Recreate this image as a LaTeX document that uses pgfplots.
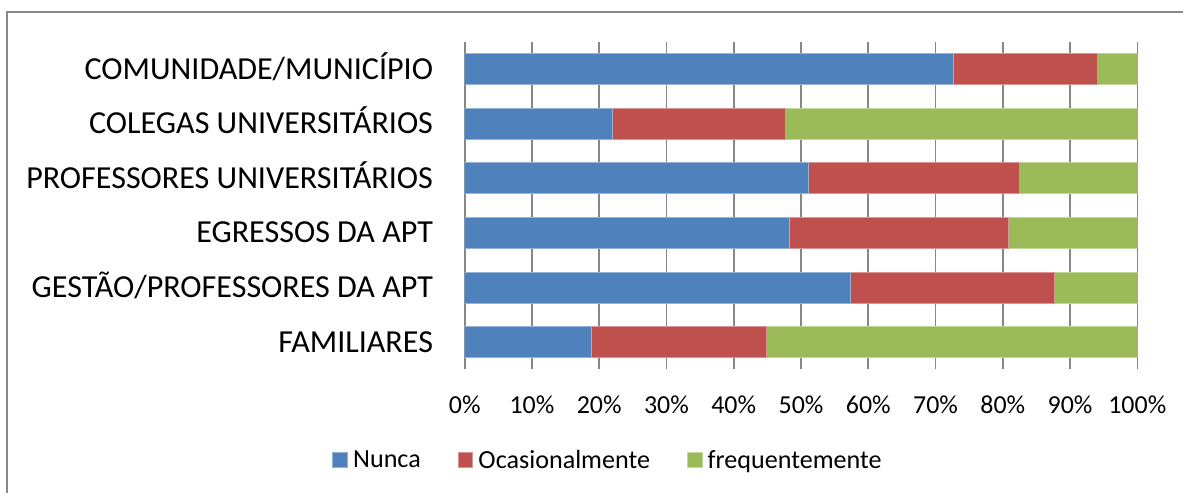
\documentclass[border=0pt]{standalone}
\usepackage{fontspec}
\setmainfont{Carlito}
\usepackage{pgfplots}
\pgfplotsset{compat=1.18}
\definecolor{cblue}{HTML}{4F81BD}
\definecolor{cred}{HTML}{C0504D}
\definecolor{cgreen}{HTML}{9BBB59}
\definecolor{gridgray}{HTML}{878787}
\begin{document}
\begin{tikzpicture}
\useasboundingbox (0bp,0bp) rectangle (1183bp,493bp);
\draw[color=gridgray, line width=2bp] (7bp,0bp) -- (7bp,481bp) -- (1183bp,481bp);
\begin{axis}[
  at={(464.7bp,123.5bp)}, anchor=south west,
  scale only axis, width=672.6bp, height=327.8bp,
  xbar stacked, bar width=31bp,
  xmin=0, xmax=100, ymin=-0.5, ymax=5.5,
  xtick={0,10,...,100},
  xticklabel={\pgfmathprintnumber{\tick}\%},
  ytick={0,1,2,3,4,5},
  yticklabels={FAMILIARES,GESTÃO/PROFESSORES DA APT,EGRESSOS DA APT,PROFESSORES UNIVERSITÁRIOS,COLEGAS UNIVERSITÁRIOS,COMUNIDADE/MUNICÍPIO},
  /pgf/number format/assume math mode=true,
  major tick length=0pt,
  axis line style={draw=none},
  xmajorgrids, ymajorgrids=false,
  grid style={color=gridgray, line width=1.6bp},
  xticklabel style={anchor=center, yshift=-35bp, font=\fontsize{26}{30}\selectfont},
  yticklabel style={anchor=base east, inner sep=0pt, xshift=-31.5bp, yshift=-10bp, font=\fontsize{32.2}{36}\selectfont},
  legend columns=-1,
  legend style={draw=none, fill=none, at={(0.2116,-0.276)}, anchor=center,
    font=\fontsize{26.2}{30}\selectfont,
    nodes={inner sep=0pt},
    /tikz/every even column/.append style={column sep=37bp}},
  legend image code/.code={\fill[#1] (0bp,-7.2bp) rectangle (14.5bp,7.2bp); \path (20bp,0bp);},
]
\addplot[fill=cblue, draw=cblue!60!white, line width=0.7bp] coordinates {(18.9,0) (57.3,1) (48.2,2) (51.1,3) (22.0,4) (72.6,5)};
\addplot[fill=cred, draw=cred!60!white, line width=0.7bp] coordinates {(26.0,0) (30.3,1) (32.7,2) (31.4,3) (25.6,4) (21.4,5)};
\addplot[fill=cgreen, draw=cgreen!60!white, line width=0.7bp] coordinates {(55.1,0) (12.4,1) (19.1,2) (17.5,3) (52.4,4) (6.0,5)};
\legend{Nunca,Ocasionalmente,frequentemente}
\end{axis}
\end{tikzpicture}
\end{document}
